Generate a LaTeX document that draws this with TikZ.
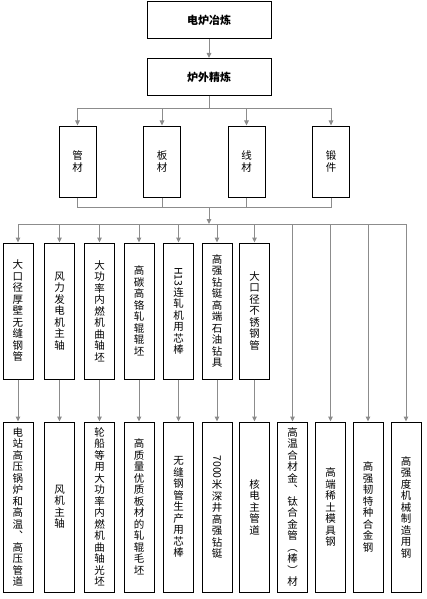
\documentclass[tikz,border=0pt]{standalone}
\usepackage{fontspec}
\setmainfont{Noto Sans CJK SC}
\usepackage{graphicx}
\usetikzlibrary{arrows.meta,positioning}

% characters stacked one below the other
\makeatletter
\newcommand\vtxt[1]{\vbox{\baselineskip=11.5pt\@tfor\vch:=#1\do{\hbox to 11pt{\hss\vch\hss}}}}
\makeatother
\newcommand\rotlat[1]{\rotatebox[origin=c]{-90}{#1}}

\tikzset{
  topbox/.style={draw=black, line width=1pt, minimum width=124pt, minimum height=37pt, inner sep=0pt, font=\fontsize{11}{12}\selectfont\bfseries},
  kindbox/.style={draw=black, line width=1pt, minimum width=37pt, minimum height=71pt, inner sep=0pt, font=\fontsize{10.5}{11.5}\selectfont},
  prodbox/.style={draw=black, line width=1pt, minimum width=30pt, minimum height=136pt, inner sep=0pt, font=\fontsize{10.5}{11.5}\selectfont},
  usebox/.style={draw=black, line width=1pt, minimum width=30pt, minimum height=170pt, inner sep=0pt, font=\fontsize{10.5}{11.5}\selectfont},
  link/.style={draw=gray!90, line width=1pt},
  arr/.style={link, -{Triangle[length=5pt,width=4.5pt]}}
}

\begin{document}
\begin{tikzpicture}[x=1pt,y=-1pt]
\useasboundingbox (0,0) rectangle (426,599);

% smelting
\node[topbox] (dian) at (209,20.5) {电炉冶炼};
\node[topbox] (jing) at (209,77) {炉外精炼};

% material kinds
\node[kindbox] (guan) at (77.5,161.5) {\vtxt{管材}};
\node[kindbox] (ban) at (162,161.5) {\vtxt{板材}};
\node[kindbox] (xian) at (246.5,161.5) {\vtxt{线材}};
\node[kindbox] (duan) at (331,161.5) {\vtxt{锻件}};

\coordinate (merge) at (209,207);
\coordinate (split) at (209,224);

% products
\node[prodbox] (p1) at (18,311) {\vtxt{大口径厚壁无缝钢管}};
\node[prodbox] (p2) at (59.5,311) {\vtxt{风力发电机主轴}};
\node[prodbox] (p3) at (99.5,311) {\vtxt{大功率内燃机曲轴坯}};
\node[prodbox] (p4) at (139,311) {\vtxt{高碳高铬轧辊辊坯}};
\node[prodbox] (p5) at (178.5,311) {\vtxt{{\rotlat{H13}}连轧机用芯棒}};
\node[prodbox] (p6) at (217,311) {\vtxt{高强钻铤高端石油钻具}};
\node[prodbox] (p7) at (254.5,311) {\vtxt{大口径不锈钢管}};

% uses
\node[usebox] (u1) at (18,507) {\vtxt{电站高压锅炉和高温︑高压管道}};
\node[usebox] (u2) at (59.5,507) {\vtxt{风机主轴}};
\node[usebox] (u3) at (99.5,507) {\vtxt{轮船等用大功率内燃机曲轴光坯}};
\node[usebox] (u4) at (139,507) {\vtxt{高质量优质板材的轧辊毛坯}};
\node[usebox] (u5) at (178.5,507) {\vtxt{无缝钢管生产用芯棒}};
\node[usebox] (u6) at (217,507) {\vtxt{{\rotlat{7000}}米深井高强钻铤}};
\node[usebox] (u7) at (254.5,507) {\vtxt{核电主管道}};
\node[usebox] (u8) at (292.5,507) {\vtxt{高温合材金︑钛合金管︵棒︶材}};
\node[usebox] (u9) at (330.5,507) {\vtxt{高端稀土模具钢}};
\node[usebox] (u10) at (368,507) {\vtxt{高强韧特种合金钢}};
\node[usebox] (u11) at (406,507) {\vtxt{高强度机械制造用钢}};

% connectors
\draw[arr] (dian) -- (jing);
\draw[arr] (jing.south) -- ++(0,13) -| (guan.north);
\draw[arr] (jing.south) -- ++(0,13) -| (ban.north);
\draw[arr] (jing.south) -- ++(0,13) -| (xian.north);
\draw[arr] (jing.south) -- ++(0,13) -| (duan.north);
\draw[link] (guan.south) |- (merge);
\draw[link] (ban.south) |- (merge);
\draw[link] (xian.south) |- (merge);
\draw[link] (duan.south) |- (merge);
\draw[arr] (merge) -- (split);
\draw[arr] (split) -| (p1.north);
\draw[arr] (split) -| (p2.north);
\draw[arr] (split) -| (p3.north);
\draw[arr] (split) -| (p4.north);
\draw[arr] (split) -| (p5.north);
\draw[arr] (split) -| (p6.north);
\draw[arr] (split) -| (p7.north);
\draw[arr] (split) -| (u8.north);
\draw[arr] (split) -| (u9.north);
\draw[arr] (split) -| (u10.north);
\draw[arr] (split) -| (u11.north);
\draw[arr] (p1) -- (u1);
\draw[arr] (p2) -- (u2);
\draw[arr] (p3) -- (u3);
\draw[arr] (p4) -- (u4);
\draw[arr] (p5) -- (u5);
\draw[arr] (p6) -- (u6);
\draw[arr] (p7) -- (u7);
\end{tikzpicture}
\end{document}
